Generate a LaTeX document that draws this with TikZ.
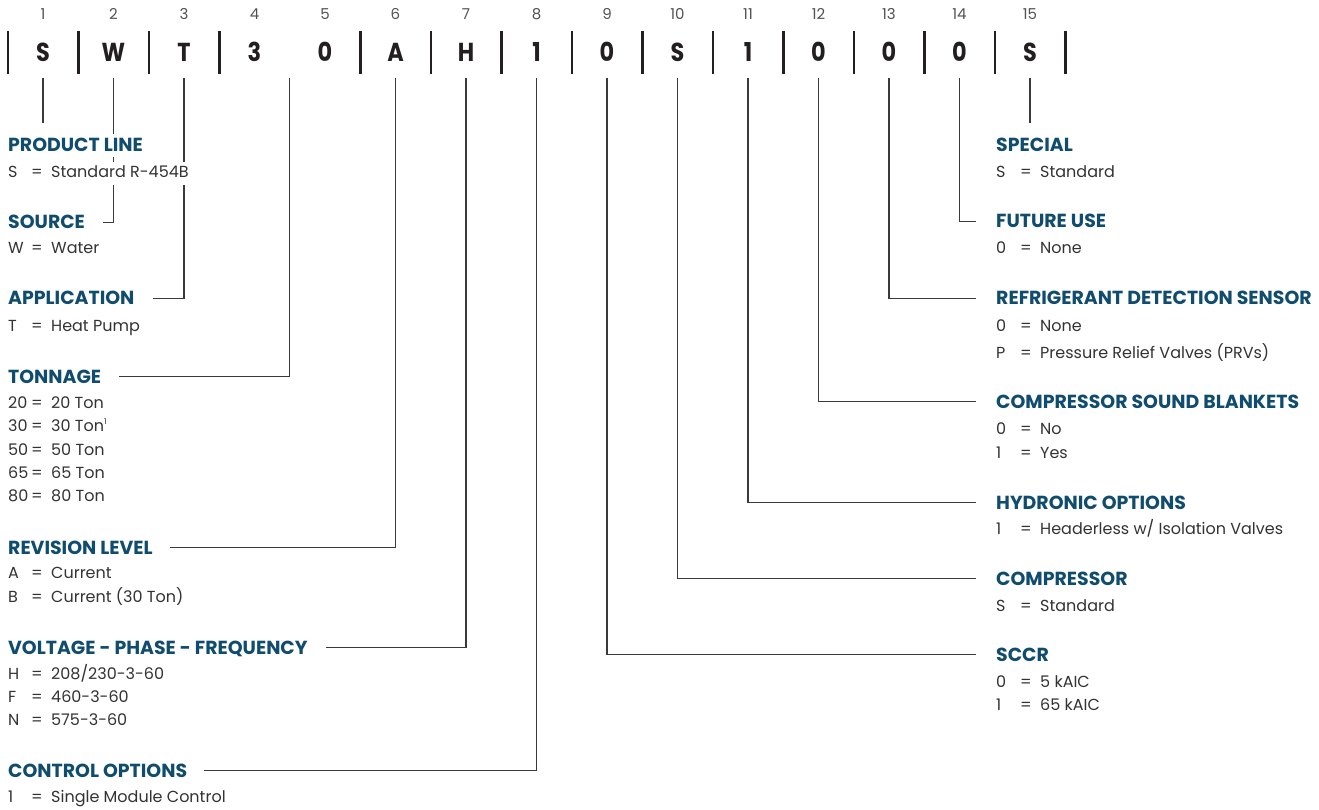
\documentclass[tikz,border=0pt]{standalone}
\usepackage{fontspec}
\setmainfont{Poppins}
\newfontfamily\charfont[FakeStretch=0.86]{Poppins}
\usetikzlibrary{calc}
\definecolor{headc}{HTML}{0F4C6E}
\definecolor{txtc}{HTML}{333333}
\definecolor{charc}{HTML}{231F20}
\definecolor{linec}{HTML}{3A3A3A}
\pgfdeclarelayer{bg}
\pgfsetlayers{bg,main}
\newcommand{\itm}[2]{\makebox[23pt][l]{#1}\makebox[20pt][l]{=}#2}
\newcommand{\itr}[2]{\makebox[24pt][l]{#1}\makebox[20pt][l]{=}#2}
\tikzset{
  codechar/.style={font=\charfont\fontsize{26}{28}\selectfont\bfseries, text=charc, inner sep=0pt, text height=19pt, text depth=0pt, minimum height=52pt},
  posnum/.style={font=\fontsize{15}{18}\selectfont, text=txtc!85, inner sep=0pt},
  bar/.style={line width=2.6pt, charc},
  head/.style={font=\fontsize{18.9}{22}\selectfont\bfseries, text=headc, inner xsep=0pt, inner ysep=5pt, text height=13pt, text depth=0pt, fill=white, anchor=base west},
  item/.style={font=\fontsize{16}{19}\selectfont, text=txtc, inner xsep=0pt, inner ysep=4pt, text height=12pt, text depth=3pt, fill=white, anchor=base west},
  conn/.style={line width=1.3pt, linec},
}
\begin{document}
\begin{tikzpicture}[x=1pt,y=-1pt]
\useasboundingbox (0,0) rectangle (1319,810);
% code characters and position numbers
\foreach \i/\c in {1/S,2/W,3/T,4/3,5/0,6/A,7/H,8/1,9/0,10/S,11/1,12/0,13/0,14/0,15/S}{
  \node[codechar] (c\i) at ({43+70.5*(\i-1)},52) {\c};
  \node[posnum] (n\i) at ({43+70.5*(\i-1)},14) {\i};
}
% separator bars
\foreach \x in {8,78.5,149,219.5,360.5,431,501.5,572,642.5,713,783.5,854,924.5,995,1065.5}{
  \draw[bar] (\x,31) -- (\x,74);
}
% left column
\node[head] (h1) at (8,152) {PRODUCT LINE};
\node[item] (i1a) at (8,178) {\itm{S}{Standard R-454B}};
\node[head] (h2) at (8,229) {SOURCE};
\node[item] (i2a) at (8,254) {\itm{W}{Water}};
\node[head] (h3) at (8,305) {APPLICATION};
\node[item] (i3a) at (8,331) {\itm{T}{Heat Pump}};
\node[head] (h4) at (8,383) {TONNAGE};
\node[item] (i4a) at (8,408) {\itm{20}{20 Ton}};
\node[item] (i4b) at (8,431) {\itm{30}{30 Ton\textsuperscript{\fontsize{8}{8}\selectfont 1}}};
\node[item] (i4c) at (8,455) {\itm{50}{50 Ton}};
\node[item] (i4d) at (8,478) {\itm{65}{65 Ton}};
\node[item] (i4e) at (8,501) {\itm{80}{80 Ton}};
\node[head] (h6) at (8,554) {REVISION LEVEL};
\node[item] (i6a) at (8,578) {\itm{A}{Current}};
\node[item] (i6b) at (8,602) {\itm{B}{Current (30 Ton)}};
\node[head] (h7) at (8,654) {VOLTAGE - PHASE - FREQUENCY};
\node[item] (i7a) at (8,679) {\itm{H}{208/230-3-60}};
\node[item] (i7b) at (8,702) {\itm{F}{460-3-60}};
\node[item] (i7c) at (8,725) {\itm{N}{575-3-60}};
\node[head] (h8) at (8,777) {CONTROL OPTIONS};
\node[item] (i8a) at (8,802) {\itm{1}{Single Module Control}};
% right column
\node[head] (h15) at (996,152) {SPECIAL};
\node[item] (i15a) at (996,178) {\itr{S}{Standard}};
\node[head] (h14) at (996,228) {FUTURE USE};
\node[item] (i14a) at (996,254) {\itr{0}{None}};
\node[head] (h13) at (996,305) {REFRIGERANT DETECTION SENSOR};
\node[item] (i13a) at (996,331) {\itr{0}{None}};
\node[item] (i13b) at (996,358) {\itr{P}{Pressure Relief Valves (PRVs)}};
\node[head] (h12) at (996,408) {COMPRESSOR SOUND BLANKETS};
\node[item] (i12a) at (996,434) {\itr{0}{No}};
\node[item] (i12b) at (996,458) {\itr{1}{Yes}};
\node[head] (h11) at (996,509) {HYDRONIC OPTIONS};
\node[item] (i11a) at (996,534) {\itr{1}{Headerless w/ Isolation Valves}};
\node[head] (h10) at (996,585) {COMPRESSOR};
\node[item] (i10a) at (996,611) {\itr{S}{Standard}};
\node[head] (h9) at (996,661) {SCCR};
\node[item] (i9a) at (996,687) {\itr{0}{5 kAIC}};
\node[item] (i9b) at (996,710) {\itr{1}{65 kAIC}};
% connectors
\coordinate (c45) at ($(c4.south)!0.5!(c5.south)$);
\begin{pgfonlayer}{bg}
\draw[conn] (c1.south) -- (c1.south |- 0,123);
\draw[conn] (c15.south) -- (c15.south |- 0,123);
\draw[conn] (c2.south) |- ([xshift=18pt]h2.east);
\draw[conn] (c3.south) |- ([xshift=18pt]h3.east);
\draw[conn] (c45) |- ([xshift=18pt]h4.east);
\draw[conn] (c6.south) |- ([xshift=17pt]h6.east);
\draw[conn] (c7.south) |- ([xshift=18pt]h7.east);
\draw[conn] (c8.south) |- ([xshift=17pt]h8.east);
\draw[conn] (c14.south) |- ([xshift=-20pt]h14.west);
\draw[conn] (c13.south) |- ([xshift=-20pt]h13.west);
\draw[conn] (c12.south) |- ([xshift=-20pt]h12.west);
\draw[conn] (c11.south) |- ([xshift=-20pt]h11.west);
\draw[conn] (c10.south) |- ([xshift=-20pt]h10.west);
\draw[conn] (c9.south) |- ([xshift=-20pt]h9.west);
\end{pgfonlayer}
\end{tikzpicture}
\end{document}
